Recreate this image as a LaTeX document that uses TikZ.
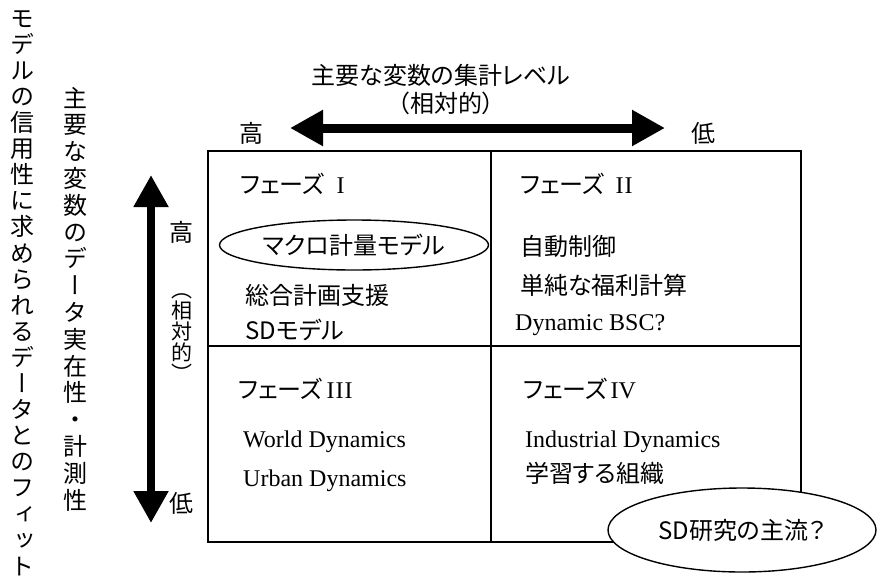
\documentclass[tikz,border=0pt]{standalone}
\usepackage{fontspec}
\setmainfont{Noto Sans CJK JP}[RawFeature=+palt]
\newfontfamily\vjp{Noto Sans CJK JP}[RawFeature=+vert]
\newfontfamily\jpplain{Noto Sans CJK JP}
\newfontfamily\serifr{Liberation Serif}
\usetikzlibrary{arrows.meta,shapes.geometric}
\begin{document}
\begin{tikzpicture}[x=1pt,y=-1pt,
  jp/.style={inner sep=0pt, font=\fontsize{24}{28}\selectfont},
  en/.style={inner sep=0pt, font=\serifr\fontsize{24}{28}\selectfont},
  vtext/.style={inner sep=0pt, align=center, font=\vjp\fontsize{24}{26.1}\selectfont},
  vsmall/.style={inner sep=0pt, align=center, font=\jpplain\fontsize{24}{24}\selectfont},
  harrow/.style={line width=9pt, {Triangle[length=33pt,width=34pt]}-{Triangle[length=33pt,width=34pt]}},
  varrow/.style={line width=8pt, {Triangle[length=32pt,width=33pt]}-{Triangle[length=32pt,width=33pt]}},
  frame/.style={line width=1.6pt},
  oval/.style={ellipse, draw, line width=1.4pt, inner sep=0pt, font=\fontsize{24}{28}\selectfont}]
\useasboundingbox (0,0) rectangle (877,581);
\fill[white] (0,0) rectangle (877,581);

% left vertical titles
\node[vtext] (fit) at (22,293) {モ\\デ\\ル\\の\\信\\用\\性\\に\\求\\め\\ら\\れ\\る\\デ\\ー\\タ\\と\\の\\フ\\ィ\\ッ\\ト};
\node[vtext, font=\vjp\fontsize{24}{26.8}\selectfont] (data) at (75,299) {主\\要\\な\\変\\数\\の\\デ\\ー\\タ\\実\\在\\性\\・\\計\\測\\性};

% top title
\node[jp] (title) at (441,75) {主要な変数の集計レベル};
\node[jp] (rel) at (446,103) {（相対的）};
\node[jp] (hhigh) at (251,133) {高};
\node[jp] (hlow) at (703,133) {低};
\coordinate (hl) at (290,128);
\coordinate (hr) at (665,128);
\draw[harrow] (hl) -- (hr);

% vertical axis
\coordinate (vt) at (151,175);
\coordinate (vb) at (151,523);
\draw[varrow] (vt) -- (vb);
\node[vsmall] (vhigh) at (181,232) {高};
\node[vsmall, font=\jpplain\fontsize{21}{21}\selectfont] (vrel) at (182,338) {︵\\相\\対\\的\\︶};
\node[vsmall] (vlow) at (181,503) {低};

% frame
\draw[frame] (208,151) rectangle (801,542);
\draw[frame] (491,151) -- (491,542);
\draw[frame] (208,346) -- (801,346);

% quadrant I
\node[jp, anchor=west] (p1) at (240,184) {フェーズ\hspace{12pt}{\serifr I}};
\node[oval, minimum width=269pt, minimum height=50pt] (macro) at (354,245) {マクロ計量モデル};
\node[jp, anchor=west] (q1a) at (245,295) {総合計画支援};
\node[jp, anchor=west] (q1b) at (245,330) {SDモデル};

% quadrant II
\node[jp, anchor=west] (p2) at (520,184) {フェーズ\hspace{11pt}{\serifr I\kern1pt I}};
\node[jp, anchor=west] (q2a) at (520,246) {自動制御};
\node[jp, anchor=west] (q2b) at (520,285) {単純な福利計算};
\node[en, anchor=base west] (q2c) at (515,330) {Dynamic BSC?};

% quadrant III
\node[jp, anchor=west] (p3) at (238,389) {フェーズ\hspace{4pt}{\serifr I\kern1pt I\kern1pt I}};
\node[en, anchor=base west] (q3a) at (243,447) {World Dynamics};
\node[en, anchor=base west] (q3b) at (243,486) {Urban Dynamics};

% quadrant IV
\node[jp, anchor=west] (p4) at (523,389) {フェーズ\hspace{3pt}{\serifr IV}};
\node[en, anchor=base west] (q4a) at (525,447) {Industrial Dynamics};
\node[jp, anchor=west] (q4b) at (525,473) {学習する組織};

\node[oval, fill=white, minimum width=268pt, minimum height=84pt] (main) at (742,530) {SD研究の主流？};
\end{tikzpicture}
\end{document}
